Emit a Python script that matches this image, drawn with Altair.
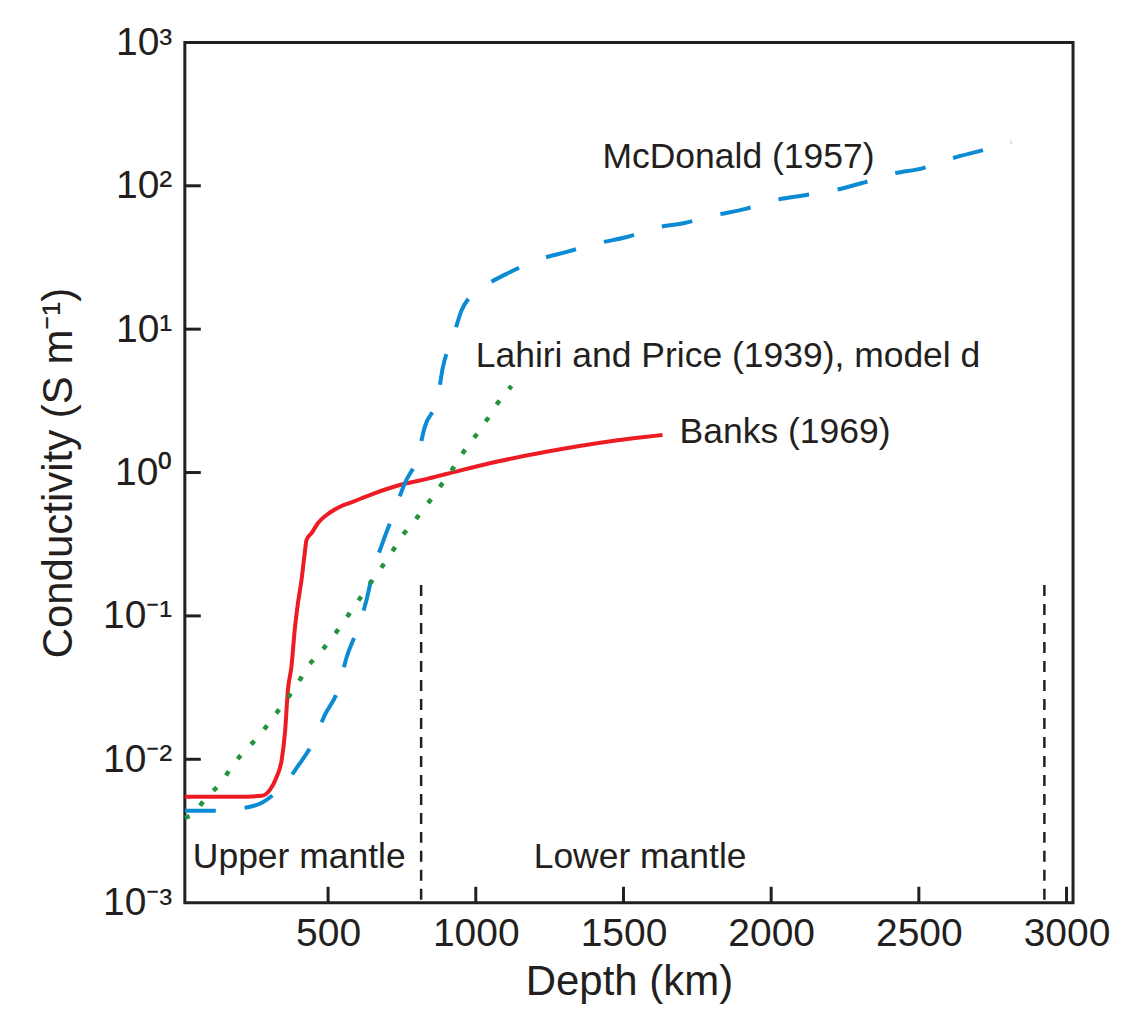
import altair as alt
import pandas as pd

# ---- data ----
banks_depth = [15, 201, 276, 303, 326, 343, 354, 364, 376, 387, 398, 410, 421, 427,
               444, 466, 495, 540, 585, 641, 709, 765, 810, 900, 1070, 1239, 1463, 1632]
banks_cond = [0.00548, 0.00548, 0.00557, 0.00612, 0.00755, 0.00993, 0.0153, 0.0305,
              0.0444, 0.0798, 0.123, 0.178, 0.275, 0.339, 0.378, 0.445, 0.506, 0.578,
              0.627, 0.697, 0.780, 0.841, 0.879, 0.977, 1.189, 1.396, 1.660, 1.824]

mcd_depth = [15, 127, 201, 276, 326, 370, 394, 448, 489, 536, 562, 596, 630, 651, 686,
             720, 760, 803, 827, 871, 888, 922, 952, 986, 1023, 1115, 1206, 1308, 1409,
             1511, 1612, 1707, 1809, 1917, 2012, 2113, 2214, 2316, 2417, 2512, 2613,
             2715, 2813]
mcd_cond = [0.00438, 0.00438, 0.00452, 0.00498, 0.00594, 0.00743, 0.00873, 0.0130,
            0.0204, 0.0315, 0.0509, 0.0778, 0.129, 0.200, 0.330, 0.506, 0.845, 1.282,
            2.075, 3.304, 5.346, 8.650, 13.55, 17.26, 19.63, 24.95, 30.27, 34.59, 39.54,
            43.95, 51.17, 55.08, 62.23, 69.34, 79.25, 85.90, 93.11, 105.7, 122.2, 132.4,
            155.6, 176.6, 200.9]

lahiri_depth = [15, 39, 90, 140, 178, 228, 269, 313, 354, 394, 431, 472, 516, 557, 597,
                634, 675, 716, 753, 800, 834, 878, 919, 956, 996, 1037, 1074, 1115, 1121]
lahiri_cond = [0.00391, 0.00410, 0.00548, 0.00697, 0.00916, 0.0120, 0.0148, 0.0195,
               0.0252, 0.0330, 0.0442, 0.0552, 0.0714, 0.0938, 0.123, 0.159, 0.209,
               0.279, 0.366, 0.482, 0.594, 0.792, 1.040, 1.368, 1.766, 2.323, 3.048,
               3.882, 4.009]

boundary_depth = [815, 2925]
boundary_top = [0.164, 0.164]
boundary_bottom = [0.001, 0.001]

label_text = ["McDonald (1957)", "Lahiri and Price (1939), model d", "Banks (1969)",
              "Upper mantle", "Lower mantle"]
label_depth = [1429, 1000, 1690, 42, 1196]
label_cond = [132.4, 5.43, 1.607, 0.001754, 0.001754]

x_ticks = [500, 1000, 1500, 2000, 2500, 3000]
y_ticks = [0.001, 0.01, 0.1, 1, 10, 100, 1000]
y_inner_ticks = [0.01, 0.1, 1, 10, 100]

# inward tick marks (short stubs from the frame, in data units)
x_tick_base = 0.001
x_tick_tip = 0.00129
y_tick_base = 15
y_tick_tip = 69

# ---- tables ----
banks = pd.DataFrame({"depth": banks_depth, "cond": banks_cond, "i": range(len(banks_depth))})
mcd = pd.DataFrame({"depth": mcd_depth, "cond": mcd_cond, "i": range(len(mcd_depth))})
lahiri = pd.DataFrame({"depth": lahiri_depth, "cond": lahiri_cond, "i": range(len(lahiri_depth))})
bounds = pd.DataFrame({"depth": boundary_depth, "cond": boundary_top, "cond2": boundary_bottom})
labels = pd.DataFrame({"depth": label_depth, "cond": label_cond, "label": label_text})
xt = pd.DataFrame({"depth": x_ticks, "cond": [x_tick_base] * len(x_ticks),
                   "cond2": [x_tick_tip] * len(x_ticks)})
yt = pd.DataFrame({"cond": y_inner_ticks, "depth": [y_tick_base] * len(y_inner_ticks),
                   "depth2": [y_tick_tip] * len(y_inner_ticks)})

FONT = "Liberation Sans"
INK = "#231f20"
W, H = 889, 861

X = alt.X(
    "depth:Q",
    scale=alt.Scale(domain=[15, 3022], nice=False, zero=False),
    axis=alt.Axis(
        values=x_ticks, format="d", title="Depth (km)", grid=False, domain=False,
        ticks=False, tickSize=0,
        labelPadding=12, labelFontSize=39, labelFont=FONT, labelColor=INK,
        titleFontSize=42, titleFont=FONT, titleColor=INK, titleFontWeight="normal",
        titlePadding=8, labelFlush=False,
    ),
)
Y = alt.Y(
    "cond:Q",
    scale=alt.Scale(type="log", domain=[0.001, 1000], nice=False),
    axis=alt.Axis(
        values=y_ticks, title="Conductivity (S m⁻¹)", grid=False, domain=False,
        ticks=False, tickSize=0,
        labelExpr="'10' + (datum.value < 1 ? '⁻' : '') + ['⁰','¹','²','³'][abs(round(log(datum.value)/LN10))]",
        labelPadding=13, labelFontSize=39, labelFont=FONT, labelColor=INK,
        titleFontSize=42, titleFont=FONT, titleColor=INK, titleFontWeight="normal",
        titlePadding=22, labelFlush=False,
    ),
)

xtick_layer = alt.Chart(xt).mark_rule(color=INK, strokeWidth=3).encode(
    x=X, y=Y, y2="cond2:Q")
ytick_layer = alt.Chart(yt).mark_rule(color=INK, strokeWidth=3).encode(
    y=Y, x=X, x2="depth2:Q")

red = alt.Chart(banks).mark_line(color="#ed1c24", strokeWidth=4, interpolate="monotone").encode(
    x=X, y=Y, order="i:Q")
blue = alt.Chart(mcd).mark_line(color="#0b8bd4", strokeWidth=4, strokeDash=[31, 29],
                                interpolate="monotone").encode(x=X, y=Y, order="i:Q")
green = alt.Chart(lahiri).mark_line(color="#27923c", strokeWidth=4.5, strokeDash=[5, 15],
                                    interpolate="monotone").encode(x=X, y=Y, order="i:Q")
rules = alt.Chart(bounds).mark_rule(color=INK, strokeWidth=2.5, strokeDash=[11, 8]).encode(
    x=X, y=Y, y2="cond2:Q")
texts = alt.Chart(labels).mark_text(align="left", baseline="alphabetic", fontSize=35.5,
                                    font=FONT, color=INK).encode(x=X, y=Y, text="label:N")

chart = alt.layer(rules, red, blue, green, texts, xtick_layer, ytick_layer).properties(
    width=W, height=H,
    autosize=alt.AutoSizeParams(type="none"),
    padding={"left": 177, "top": 34, "right": 40, "bottom": 110},
    background="white",
).configure_view(stroke=INK, strokeWidth=3)

chart.save("out.html", embed_options={"renderer": "svg", "actions": False})
